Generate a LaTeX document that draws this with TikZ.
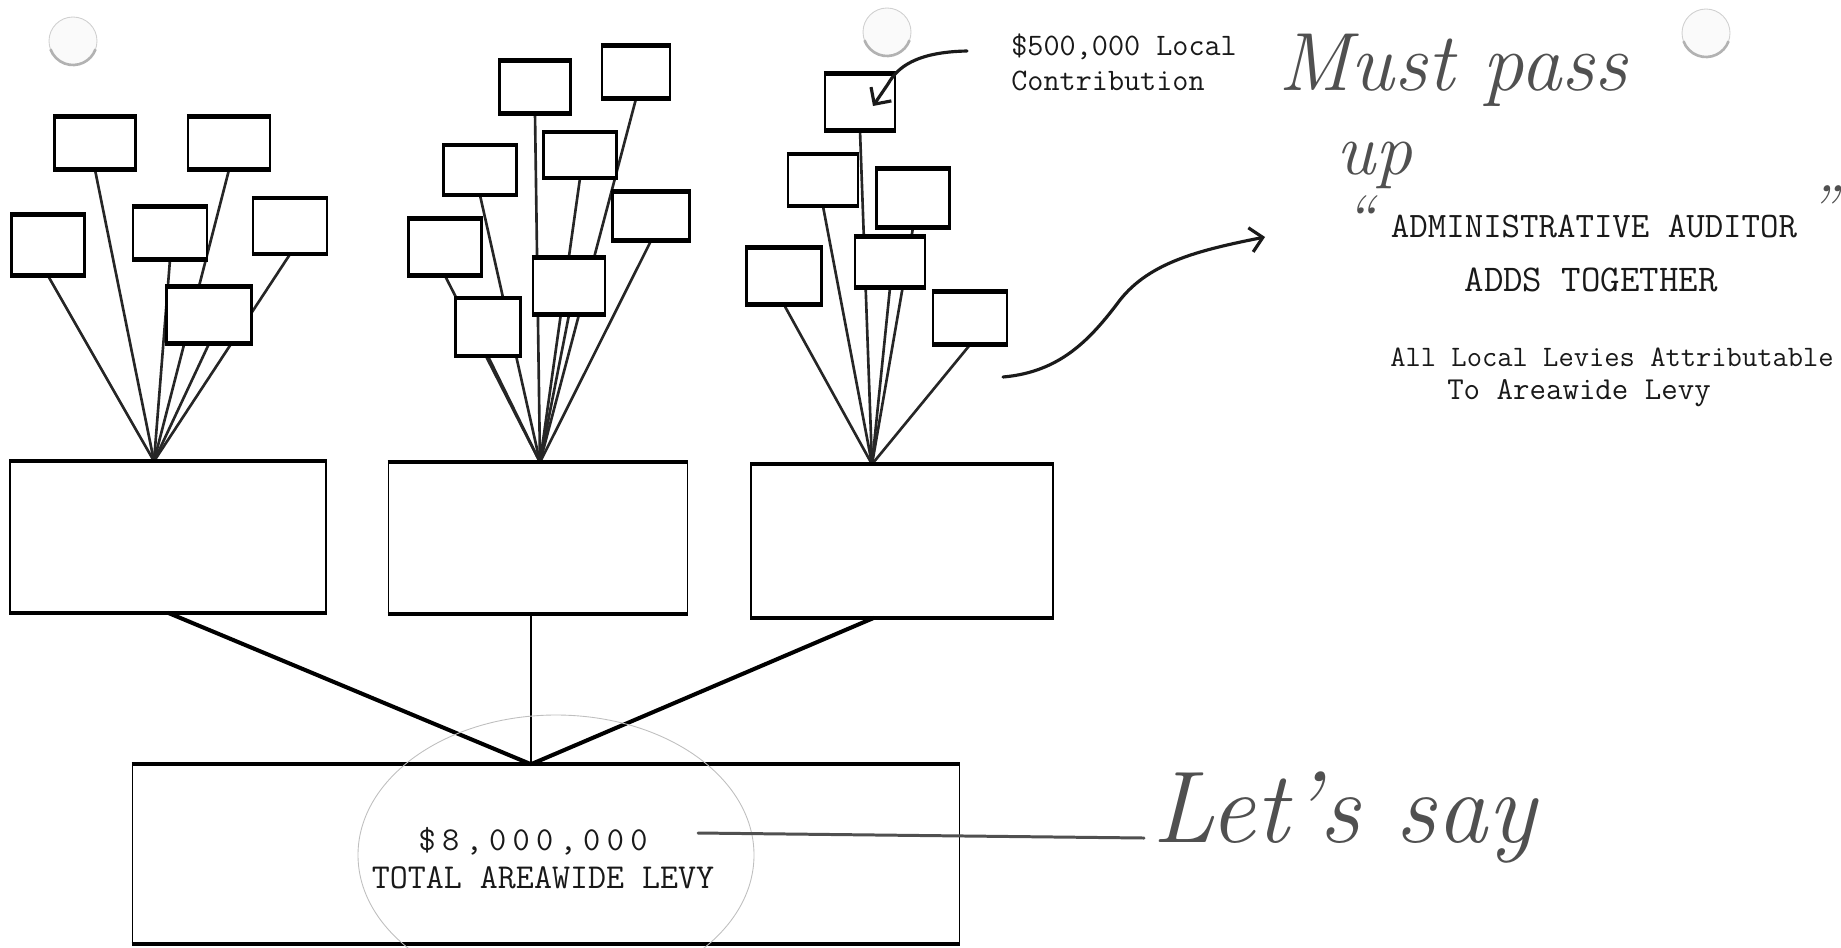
\documentclass[tikz,border=0pt]{standalone}
\usepackage{fontspec}
\usepackage{tikz}
\usetikzlibrary{arrows.meta,positioning,calc,backgrounds}
\newcommand{\handsize}[1]{\normalfont\itshape\fontsize{#1}{#1}\selectfont}
\newcommand{\typesize}[1]{\ttfamily\fontsize{#1}{#1}\selectfont}
\newcommand{\gap}{\hspace{0.19em}}
\definecolor{pencil}{HTML}{505050}
\definecolor{ink}{HTML}{1A1A1A}
\definecolor{holegrey}{HTML}{D0D0D0}

\tikzset{
  barline/.style={draw=black, line width=2.5pt},
  levybox/.style n args={3}{draw=black, line width=#3, inner sep=0pt,
    minimum width=#1*0.02cm, minimum height=#2*0.02cm,
    append after command={(\tikzlastnode.north west) edge[barline] (\tikzlastnode.north east)
      (\tikzlastnode.south west) edge[barline] (\tikzlastnode.south east)}},
  leaf/.style 2 args={levybox={#1}{#2}{1.4pt}, fill=white},
  district/.style 2 args={levybox={#1}{#2}{0.9pt}},
  twig/.style={draw=black!85, line width=1.5pt},
  stem/.style={draw=black, line width=2.3pt},
  typed/.style={inner sep=0pt, text=black!90},
  hand/.style={inner sep=0pt, text=pencil},
  pencilline/.style={draw=pencil, line width=1.7pt, line cap=round},
  inkarrow/.style={draw=ink, line width=1.8pt, line cap=round,
    -{Straight Barb[length=7pt,width=14pt]}},
}

\begin{document}
\begin{tikzpicture}[x=0.02cm, y=-0.02cm]
  \useasboundingbox (0,0) rectangle (1841,947);
  % Punched holes of the sheet
  \foreach \hx/\hy in {73/41, 887/32, 1706/33}{
    \draw[holegrey, fill=black!2, line width=0.5pt] (\hx,\hy) circle (24);
    \draw[black!30, line width=1.5pt] (\hx,\hy) ++(20:24) arc[start angle=20, end angle=160, radius=24];
  }
  % Local levies, first district
  \node[leaf={81}{51}] (a1) at (95,143) {};
  \node[leaf={82}{51}] (a2) at (229,143) {};
  \node[leaf={73}{59}] (a3) at (48,245) {};
  \node[leaf={74}{51}] (a4) at (170,233) {};
  \node[leaf={74}{54}] (a5) at (290,226) {};
  \node[leaf={85}{55}] (a6) at (209,315) {};
  % Local levies, second district
  \node[leaf={71}{51}] (b1) at (535,87) {};
  \node[leaf={68}{51}] (b2) at (636,72) {};
  \node[leaf={73}{48}] (b3) at (480,170) {};
  \node[leaf={73}{44}] (b4) at (580,155) {};
  \node[leaf={73}{55}] (b5) at (445,247) {};
  \node[leaf={77}{47}] (b6) at (651,216) {};
  \node[leaf={72}{55}] (b7) at (569,286) {};
  \node[leaf={65}{56}] (b8) at (488,327) {};
  % Local levies, third district
  \node[leaf={70}{55}] (c1) at (860,102) {};
  \node[leaf={70}{50}] (c2) at (823,180) {};
  \node[leaf={73}{57}] (c3) at (913,198) {};
  \node[leaf={70}{49}] (c4) at (890,262) {};
  \node[leaf={75}{55}] (c5) at (784,276) {};
  \node[leaf={74}{51}] (c6) at (970,318) {};
  % Districts and the areawide total
  \node[district={316}{150}] (big1) at (168,537) {};
  \node[district={299}{150}] (big2) at (538,538) {};
  \node[district={302}{152}] (big3) at (902,541) {};
  \node[district={827}{178}] (total) at (546,854) {};
  \coordinate (hub1) at ($(big1.north)+(-14,0)$);
  \coordinate (hub2) at ($(big2.north)+(2,0)$);
  \coordinate (hub3) at ($(big3.north)+(-30,0)$);
  \coordinate (hub0) at ($(total.north)+(-15,0)$);
  % Twigs and stems behind the boxes
  \begin{scope}[on background layer]
    \foreach \i in {1,...,6} \draw[twig] (a\i.south) -- (hub1);
    \foreach \i in {1,...,8} \draw[twig] (b\i.south) -- (hub2);
    \foreach \i in {1,...,6} \draw[twig] (c\i.south) -- (hub3);
    \draw[stem] (big1.south) -- (hub0);
    \draw[stem, line width=1.6pt] ($(big2.south)+(-7,0)$) -- (hub0);
    \draw[stem] ($(big3.south)+(-28,0)$) -- (hub0);
  \end{scope}
  % Typed labels
  \node[typed, font=\typesize{19}, anchor=base] (amount) at (533,850)
    {\$\gap8\gap,\gap0\gap0\gap0\gap,\gap0\gap0\gap0};
  \node[typed, font=\typesize{19.9}, anchor=base] (levy) at (543,888) {TOTAL AREAWIDE LEVY};
  \draw[black!25, line width=0.5pt] (556,855) ellipse [x radius=198, y radius=140];
  \node[typed, font=\typesize{17.8}, anchor=base west] (contrib) at (1011,55) {\$500,000 Local};
  \node[typed, font=\typesize{17.8}, anchor=base west] (contrib2) at (1011,90) {Contribution};
  \node[typed, font=\typesize{20.4}, anchor=base] (admin) at (1594,237) {ADMINISTRATIVE AUDITOR};
  \node[typed, font=\typesize{21.5}, anchor=base] (adds) at (1591,291) {ADDS TOGETHER};
  \node[typed, font=\typesize{16.9}, anchor=base] (levies) at (1612,366) {All Local Levies Attributable};
  \node[typed, font=\typesize{18.2}, anchor=base] (areawide) at (1579,399) {To Areawide Levy};
  % Handwritten notes
  \node[hand, font=\handsize{47}, anchor=base west] (mustpass) at (1278,90) {Must pass};
  \node[hand, font=\handsize{42}, anchor=base west] (up) at (1336,174) {up};
  \node[hand, font=\handsize{36}] (lquote) at (1360,218) {``};
  \node[hand, font=\handsize{36}] (rquote) at (1822,208) {''};
  \node[hand, font=\handsize{58}, anchor=base west] (letssay) at (1152,842) {Let's say};
  \coordinate (sayfrom) at (698,833);
  \draw[pencilline] (sayfrom) -- ($(letssay.base west)+(-8,-4)$);
  % Ink arrows
  \coordinate (penstart) at (967,51);
  \draw[inkarrow] (penstart) .. controls (915,52) and (897,68) .. (888,84) -- ($(c1)+(13,4)$);
  \coordinate (arrfrom) at (1003,377);
  \coordinate (arrto) at (1265,237);
  \draw[inkarrow] (arrfrom) .. controls (1060,372) and (1090,340) .. (1120,300)
    .. controls (1150,262) and (1200,250) .. (arrto);
\end{tikzpicture}
\end{document}
